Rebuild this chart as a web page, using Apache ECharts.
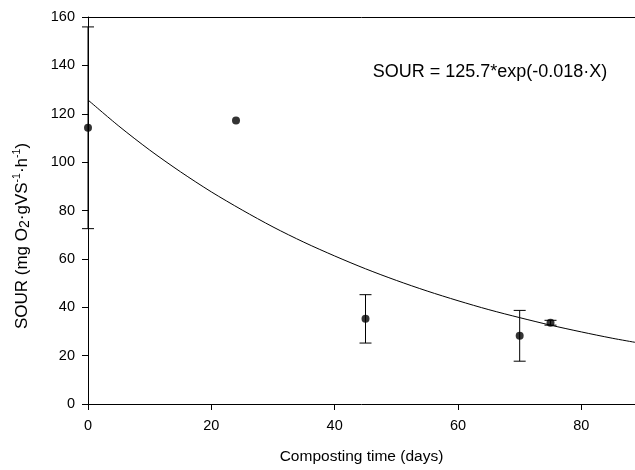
<!DOCTYPE html>
<html>
<head>
<meta charset="utf-8">
<script src="https://cdn.jsdelivr.net/npm/echarts@6/dist/echarts.min.js"></script>
<style>
html,body{margin:0;padding:0;background:#fff;}
#main{width:635px;height:470px;}
</style>
</head>
<body>
<div id="main"></div>
<script>
// Measured points
var days = [0, 24, 45, 70, 75];
var sour = [114.2, 117.2, 35.2, 28.2, 33.6];
var sourErr = [41.7, 0, 10, 10.5, 1];
// Fitted curve SOUR = 125.7*exp(-0.018*X)
var curveDays = [0, 5, 10, 15, 20, 25, 30, 35, 40, 45, 50, 55, 60, 65, 70, 75, 80, 85, 88.7];
var curveSour = [125.7, 114.9, 105.0, 96.0, 87.7, 80.2, 73.2, 66.9, 61.2, 55.9, 51.1, 46.7, 42.7, 39.0, 35.7, 32.6, 29.8, 27.2, 25.5];
var xTicks = [0, 20, 40, 60, 80];
var yTicks = [0, 20, 40, 60, 80, 100, 120, 140, 160];
var xMax = 88.7;
var fitLabel = 'SOUR = 125.7*exp(-0.018\u00B7X)';
var xTitle = 'Composting time (days)';

var FONT = '"Liberation Sans", Arial, sans-serif';
var chart = echarts.init(document.getElementById('main'), null, {renderer: 'canvas'});

var pts = days.map(function (d, i) { return [d, sour[i]]; });
var errData = days.map(function (d, i) { return [d, sour[i] - sourErr[i], sour[i] + sourErr[i]]; })
  .filter(function (e) { return e[2] - e[1] > 0; });
var curve = curveDays.map(function (d, i) { return [d, curveSour[i]]; });

var option = {
  animation: false,
  backgroundColor: '#fff',
  grid: {left: 88, right: 0, top: 17, bottom: 63},
  xAxis: [{
    type: 'value', min: 0, max: xMax, interval: 20,
    axisLine: {show: true, lineStyle: {color: '#000', width: 1}},
    axisTick: {show: true, inside: false, length: 6, lineStyle: {color: '#000'}, customValues: xTicks},
    axisLabel: {color: '#000', fontSize: 14.5, fontFamily: FONT, margin: 14, customValues: xTicks},
    splitLine: {show: false},
    name: xTitle, nameLocation: 'middle', nameGap: 45,
    nameTextStyle: {color: '#000', fontSize: 15.5, fontFamily: FONT}
  }, {
    type: 'value', position: 'top', min: 0, max: xMax,
    axisLine: {show: true, lineStyle: {color: '#000', width: 1}},
    axisTick: {show: false}, axisLabel: {show: false}, splitLine: {show: false}
  }],
  yAxis: {
    type: 'value', min: 0, max: 160, interval: 20,
    axisLine: {show: true, lineStyle: {color: '#000', width: 1}},
    axisTick: {show: true, inside: false, length: 6, lineStyle: {color: '#000'}, customValues: yTicks},
    axisLabel: {color: '#000', fontSize: 14.5, fontFamily: FONT, margin: 13, customValues: yTicks},
    splitLine: {show: false}
  },
  graphic: [{
    type: 'text', x: 22, y: 236, rotation: Math.PI / 2,
    style: {
      text: 'SOUR (mg O{sub|2}\u00B7gVS{sup|-1}\u00B7h{sup|-1})',
      fill: '#000', font: '17px ' + FONT, align: 'center', verticalAlign: 'middle',
      rich: {
        sub: {fontSize: 14, fontFamily: FONT, fill: '#000', verticalAlign: 'bottom', padding: [7, 0, 0, 0]},
        sup: {fontSize: 10.5, fontFamily: FONT, fill: '#000', verticalAlign: 'top', padding: [0, 0, 8, 0]}
      }
    }
  }, {
    type: 'text', x: 490, y: 72,
    style: {text: fitLabel, fill: '#000', font: '18px ' + FONT, align: 'center', verticalAlign: 'middle'}
  }],
  series: [{
    type: 'line', data: curve, smooth: 0.3, showSymbol: false, symbol: 'none',
    lineStyle: {color: '#000', width: 1}, z: 2, silent: true
  }, {
    type: 'custom', data: errData, z: 3, silent: true,
    renderItem: function (params, api) {
      var x = api.value(0);
      var lo = api.coord([x, api.value(1)]);
      var hi = api.coord([x, api.value(2)]);
      var hw = 6;
      var st = {stroke: '#000', lineWidth: 1};
      return {type: 'group', children: [
        {type: 'line', shape: {x1: lo[0], y1: lo[1], x2: hi[0], y2: hi[1]}, style: st},
        {type: 'line', shape: {x1: hi[0] - hw, y1: hi[1], x2: hi[0] + hw, y2: hi[1]}, style: st},
        {type: 'line', shape: {x1: lo[0] - hw, y1: lo[1], x2: lo[0] + hw, y2: lo[1]}, style: st}
      ]};
    }
  }, {
    type: 'scatter', data: pts, symbol: 'circle', symbolSize: 8,
    itemStyle: {color: '#000'}, z: 4, silent: true
  }]
};
chart.setOption(option);
</script>
</body>
</html>
